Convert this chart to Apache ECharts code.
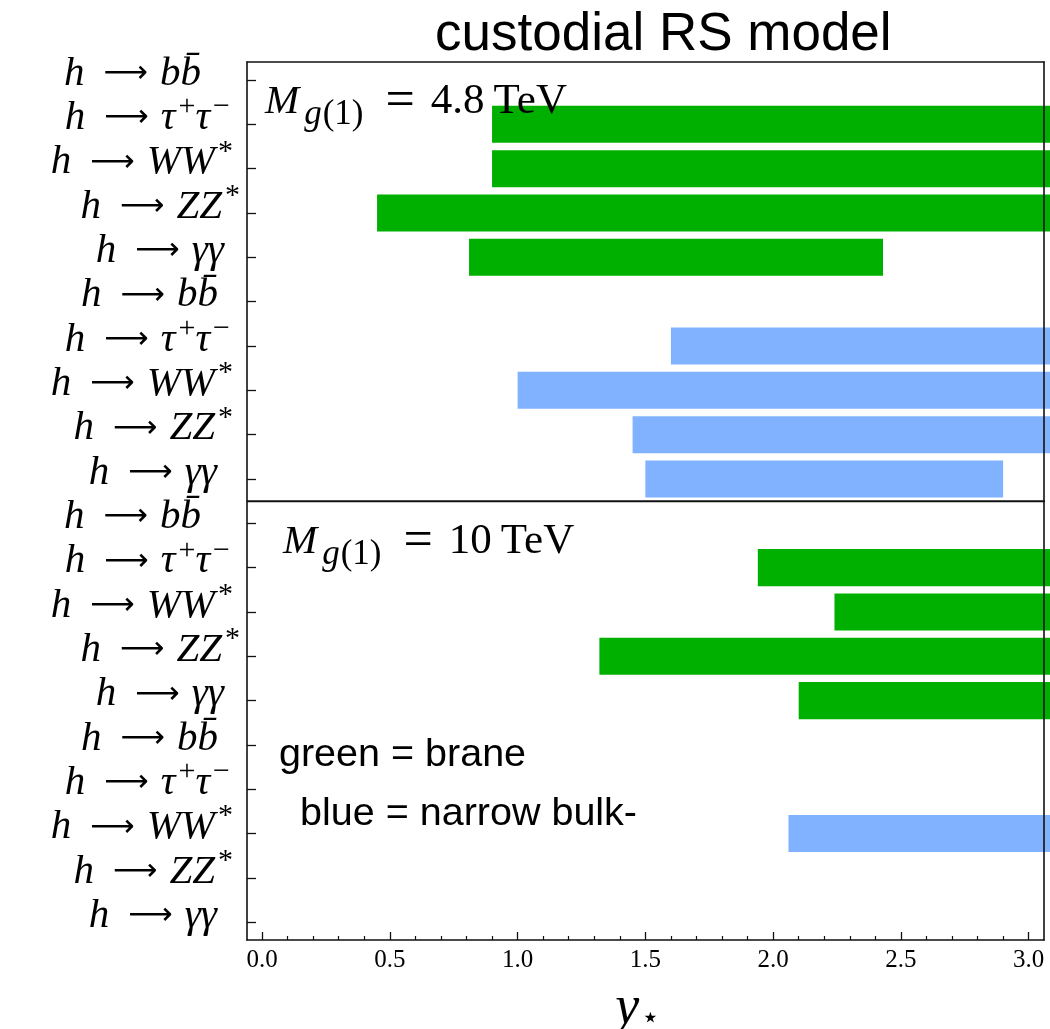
<!DOCTYPE html>
<html><head><meta charset="utf-8">
<script src="https://cdn.jsdelivr.net/npm/echarts@6/dist/echarts.min.js"></script>
<style>html,body{margin:0;padding:0;background:#fff}#main{width:1050px;height:1029px}</style>
</head><body><div id="main"></div>
<script>
// ---- data ----
const decays = ['bb', 'tautau', 'WW', 'ZZ', 'gammagamma'];
const rowDecays = [].concat(decays, decays, decays, decays); // 20 rows, top to bottom
const rowIndex = rowDecays.map((d, i) => i);
const xTicks = [0, 0.5, 1.0, 1.5, 2.0, 2.5, 3.0];
const xTickLabels = ['0.0', '0.5', '1.0', '1.5', '2.0', '2.5', '3.0'];
const xMinorTicks = [0.1,0.2,0.3,0.4,0.6,0.7,0.8,0.9,1.1,1.2,1.3,1.4,1.6,1.7,1.8,1.9,2.1,2.2,2.3,2.4,2.6,2.7,2.8,2.9];
// [row, y_start, y_end]
const brane48 = [[1, 0.90, 3.10], [2, 0.90, 3.10], [3, 0.45, 3.10], [4, 0.81, 2.43]];
const bulk48  = [[6, 1.60, 3.10], [7, 1.00, 3.10], [8, 1.45, 3.10], [9, 1.50, 2.90]];
const brane10 = [[11, 1.94, 3.10], [12, 2.24, 3.10], [13, 1.32, 3.10], [14, 2.10, 3.10]];
const bulk10  = [[17, 2.06, 3.10]];
const separator = [[-0.06, 9.5], [3.10, 9.5]];

// ---- styles ----
const GREEN = '#00b000', BLUE = '#80b2ff';
const SERIF = "'Liberation Serif', 'DejaVu Serif', serif";
const SANS = "'Liberation Sans', Arial, sans-serif";
const labelFs = 41;
const LH = 20;
const yMin = -0.406, yMax = 19.4;
// extent values added as hidden end labels so every row label stays visible
const yLabelValues = [yMin].concat(rowIndex, [yMax]);
const markup = {
  bb: '{i|h}{a|⟶}{i|b}{i|b\u0304}',
  tautau: '{i|h}{a|⟶}{i|τ}{sup|+}{i|τ}{sup|−}',
  WW: '{i|h}{a|⟶}{i|WW}{sup|*}',
  ZZ: '{i|h}{a|⟶}{i|ZZ}{sup|*}',
  gammagamma: '{i|h}{a|⟶}{i|γγ}'
};
const labelShift = [39,10,7,0,16, 22,10,7,7,23, 39,10,7,0,16, 22,10,7,7,23];
const rich = {
  i: {fontFamily: SERIF, fontStyle: 'italic', fontSize: labelFs, lineHeight: LH, color: '#000', padding: [0, 0, 12, 0]},
  a: {fontFamily: "'DejaVu Sans'", fontSize: 31, lineHeight: LH, color: '#000', padding: [0, 12, 12, 19]},
  sup: {fontFamily: SERIF, fontSize: 30, lineHeight: LH, color: '#000', padding: [0, 0, 34, 3]}
};
labelShift.forEach(s => { rich['p' + s] = {width: s, fontSize: 10, lineHeight: LH}; });

const FRAME = {color: '#111', width: 1.6};

function renderBar(params, api) {
  const row = api.value(0);
  const p0 = api.coord([api.value(1), row]);
  const p1 = api.coord([api.value(2), row]);
  const h = api.size([0, 1])[1] * 0.835;
  return {type: 'rect', shape: {x: p0[0], y: p0[1] - h / 2, width: p1[0] - p0[0], height: h},
          style: {fill: api.visual('color')}};
}
function barSeries(data, color) {
  return {type: 'custom', renderItem: renderBar, data: data, clip: false, z: 2,
          xAxisIndex: 0, yAxisIndex: 0, itemStyle: {color: color},
          encode: {x: [1, 2], y: 0}};
}
const annRich = {
  m: {fontFamily: SERIF, fontStyle: 'italic', fontSize: 41, color: '#000'},
  si: {fontFamily: SERIF, fontStyle: 'italic', fontSize: 35, color: '#000', padding: [26, 0, 0, 5]},
  s: {fontFamily: SERIF, fontSize: 35, color: '#000', padding: [26, 0, 0, 1]},
  eq: {fontFamily: SERIF, fontSize: 52, color: '#000', padding: [0, 16, 0, 22]},
  r: {fontFamily: SERIF, fontSize: 43, color: '#000'},
  u: {fontFamily: SERIF, fontSize: 43, color: '#000', padding: [0, 0, 0, 9]}
};

const chart = echarts.init(document.getElementById('main'), null, {renderer: 'canvas'});
chart.setOption({
  animation: false,
  backgroundColor: '#fff',
  title: {text: 'custodial RS model', left: 430, top: 4,
          textStyle: {fontFamily: SANS, fontSize: 53, fontWeight: 'normal', color: '#000'}},
  grid: {left: 247, right: 6, top: 62, bottom: 89, containLabel: false, outerBoundsMode: 'none'},
  xAxis: [
    {type: 'value', position: 'bottom', min: -0.059, max: 3.06, z: 10,
     axisLine: {show: true, onZero: false, lineStyle: FRAME},
     axisTick: {show: true, inside: true, length: 8, customValues: xTicks, lineStyle: {color: '#111', width: 1.3}},
     axisLabel: {show: true, customValues: xTicks, margin: 8, fontFamily: SERIF, fontSize: 25, color: '#000',
                 hideOverlap: false, showMinLabel: true, showMaxLabel: true,
                 formatter: v => xTickLabels[xTicks.indexOf(+v.toFixed(1))] },
     splitLine: {show: false},
     name: '{yi|y}{st|⋆}', nameLocation: 'middle', nameGap: 42,
     nameTextStyle: {rich: {yi: {fontFamily: SERIF, fontStyle: 'italic', fontSize: 54, color: '#000'},
                            st: {fontFamily: "'DejaVu Sans'", fontSize: 30, color: '#000', padding: [20, 16, 0, 2]}}}},
    {type: 'value', position: 'bottom', min: -0.059, max: 3.06, z: 10,
     axisLine: {show: false, onZero: false},
     axisTick: {show: true, inside: true, length: 4, customValues: xMinorTicks, lineStyle: {color: '#111', width: 1.2}},
     axisLabel: {show: false}, splitLine: {show: false}},
    {type: 'value', position: 'top', min: -0.059, max: 3.06, z: 10,
     axisLine: {show: true, onZero: false, lineStyle: FRAME},
     axisTick: {show: false}, axisLabel: {show: false}, splitLine: {show: false}}
  ],
  yAxis: [
    {type: 'value', position: 'left', inverse: true, min: yMin, max: yMax, z: 10,
     axisLine: {show: true, onZero: false, lineStyle: FRAME},
     axisTick: {show: true, inside: true, length: 9, customValues: rowIndex, lineStyle: {color: '#111', width: 1.3}},
     axisLabel: {show: true, customValues: yLabelValues, margin: 7, rich: rich, align: 'right',
                 hideOverlap: false, showMinLabel: false, showMaxLabel: false,
                 formatter: v => {
                   const r = Math.round(v);
                   if (Math.abs(v - r) > 0.01 || r < 0 || r >= rowDecays.length) return '';
                   return markup[rowDecays[r]] + '{p' + labelShift[r] + '|\u200b}';
                 }},
     splitLine: {show: false}},
    {type: 'value', position: 'right', inverse: true, min: yMin, max: yMax, z: 10,
     axisLine: {show: true, onZero: false, lineStyle: FRAME},
     axisTick: {show: false}, axisLabel: {show: false}, splitLine: {show: false}}
  ],
  series: [
    barSeries(brane48, GREEN), barSeries(bulk48, BLUE),
    barSeries(brane10, GREEN), barSeries(bulk10, BLUE),
    {type: 'line', data: separator, xAxisIndex: 0, yAxisIndex: 0, symbol: 'none', clip: false, z: 11,
     lineStyle: {color: '#111', width: 2}, silent: true}
  ],
  graphic: [
    {type: 'text', left: 265, top: 76, z: 100,
     style: {text: '{m|M}{si|g}{s|(1)}{eq|=}{r|4.8}{u|TeV}', rich: annRich}},
    {type: 'text', left: 283, top: 516, z: 100,
     style: {text: '{m|M}{si|g}{s|(1)}{eq|=}{r|10}{u|TeV}', rich: annRich}},
    {type: 'text', left: 279, top: 735, z: 100,
     style: {text: 'green = brane', fontFamily: SANS, fontSize: 39.5, fill: '#000'}},
    {type: 'text', left: 300, top: 794, z: 100,
     style: {text: 'blue = narrow bulk-', fontFamily: SANS, fontSize: 39.5, fill: '#000'}}
  ]
});
</script></body></html>
